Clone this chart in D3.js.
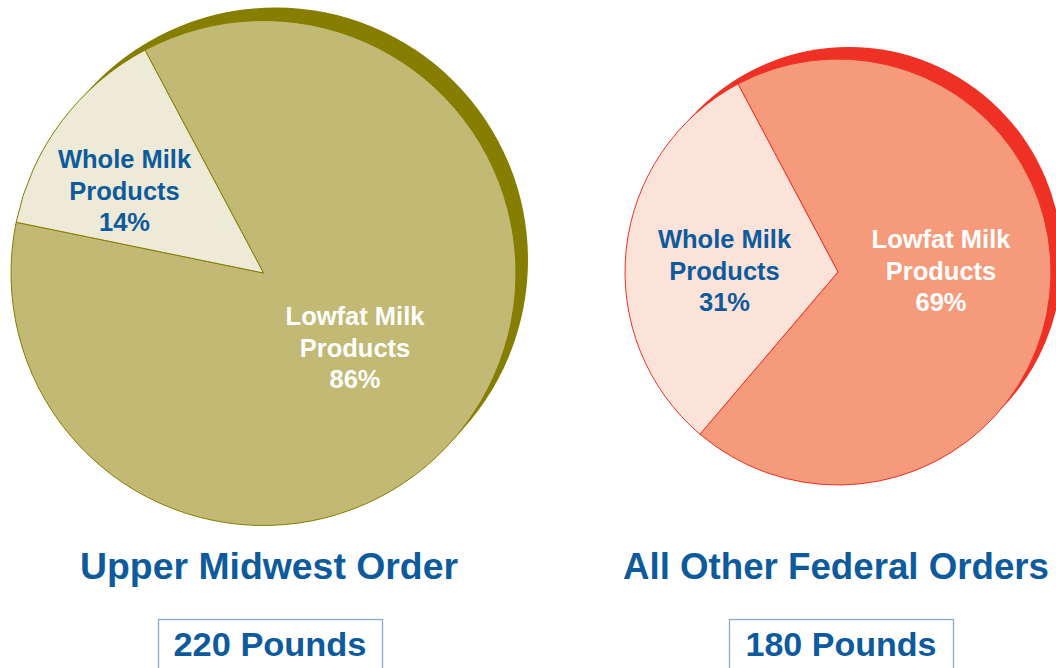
<!DOCTYPE html>
<html><head><meta charset="utf-8">
<script src="https://cdn.jsdelivr.net/npm/d3@7"></script>
<style>html,body{margin:0;padding:0;background:#fff;overflow:hidden}</style>
</head><body>
<svg id="chart" width="1056" height="668"></svg>
<script>
// Data
const categories = ["Lowfat Milk Products", "Whole Milk Products"];
const regions = ["Upper Midwest Order", "All Other Federal Orders"];
const upperMidwestValues = [86, 14];
const otherOrdersValues = [69, 31];
const totals = ["220 Pounds", "180 Pounds"];

const svg = d3.select("#chart");
const blue = "#0D5A9C";

const pies = [
  {values: upperMidwestValues, title: regions[0], total: totals[0],
   cx: 263.5, cy: 273, r: 252.5, sdx: 12, sdy: -13,
   fills: ["#C1B974", "#EDEBD7"], shadow: "#857E00", stroke: "#857E00",
   labelColors: ["#FFFFFF", blue],
   labelPos: [[355, 325], [124.5, 168]],
   titleX: 269, titleW: 378, boxX: 158, boxW: 224, totalW: 193},
  {values: otherOrdersValues, title: regions[1], total: totals[1],
   cx: 838, cy: 272, r: 213, sdx: 11, sdy: -12,
   fills: ["#F59B7C", "#FCE3D9"], shadow: "#EE3124", stroke: "#EE3124",
   labelColors: ["#FFFFFF", blue],
   labelPos: [[941, 248], [724.5, 248]],
   titleX: 836, titleW: 426, boxX: 729, boxW: 224, totalW: 191}
];

const start = -28 * Math.PI / 180;
const pieGen = d3.pie().sort(null).startAngle(start).endAngle(start + 2 * Math.PI);

pies.forEach(p => {
  const g = svg.append("g");
  // shadow disc
  g.append("circle").attr("cx", p.cx + p.sdx).attr("cy", p.cy + p.sdy)
    .attr("r", p.r).attr("fill", p.shadow);
  const arc = d3.arc().innerRadius(0).outerRadius(p.r);
  const pg = g.append("g").attr("transform", `translate(${p.cx},${p.cy})`);
  pg.selectAll("path").data(pieGen(p.values)).join("path")
    .attr("d", arc)
    .attr("fill", (d, i) => p.fills[i])
    .attr("stroke", p.stroke).attr("stroke-width", 1);

  // labels
  p.values.forEach((v, i) => {
    const words = categories[i].split(" ");
    const lines = [words[0] + " " + words[1], words[2], v + "%"];
    const t = svg.append("text")
      .attr("text-anchor", "middle")
      .attr("font-family", "Liberation Sans, Arial, sans-serif")
      .attr("font-weight", "bold").attr("font-size", 25.5)
      .attr("fill", p.labelColors[i]);
    lines.forEach((ln, k) => {
      t.append("tspan").attr("x", p.labelPos[i][0])
        .attr("y", p.labelPos[i][1] + k * 31.5).text(ln);
    });
  });

  // title
  svg.append("text").attr("x", p.titleX).attr("y", 579)
    .attr("text-anchor", "middle")
    .attr("font-family", "'Comic Sans MS', 'Liberation Sans', Arial, sans-serif")
    .attr("font-weight", "bold").attr("font-size", 36)
    .attr("textLength", p.titleW).attr("lengthAdjust", "spacingAndGlyphs")
    .attr("fill", blue).text(p.title);

  // total box
  svg.append("rect").attr("x", p.boxX + 0.5).attr("y", 619.5)
    .attr("width", p.boxW).attr("height", 70)
    .attr("fill", "none").attr("stroke", "#8AA9CC").attr("stroke-width", 1.3);
  svg.append("text").attr("x", p.boxX + p.boxW / 2).attr("y", 656)
    .attr("text-anchor", "middle")
    .attr("font-family", "'Comic Sans MS', 'Liberation Sans', Arial, sans-serif")
    .attr("font-weight", "bold").attr("font-size", 34)
    .attr("textLength", p.totalW).attr("lengthAdjust", "spacingAndGlyphs")
    .attr("fill", blue).text(p.total);
});
</script>
</body></html>
